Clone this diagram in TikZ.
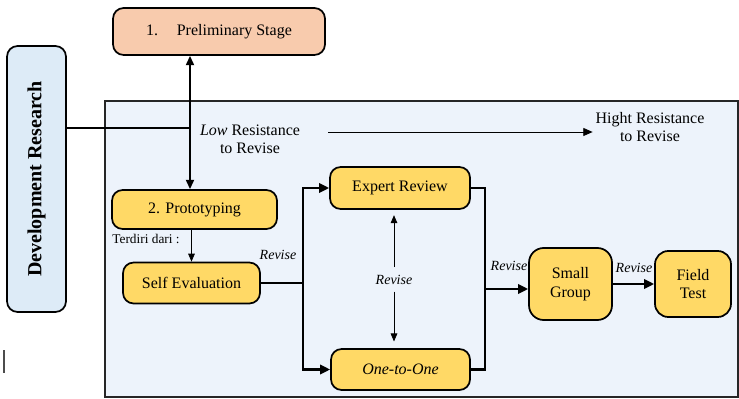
\documentclass[tikz,border=0pt]{standalone}
\usepackage{fontspec}
\setmainfont{Liberation Serif}
\newfontfamily\diagfont{Liberation Serif}
\usepackage{tikz}
\usetikzlibrary{arrows.meta}
\definecolor{peach}{HTML}{F8CBAD}
\definecolor{gold}{HTML}{FFD966}
\definecolor{paleblue}{HTML}{DDEBF7}
\definecolor{bgblue}{HTML}{EDF3FB}

\begin{document}
\begin{tikzpicture}[x=0.75pt,y=-0.75pt,
	stagebox/.style={draw=black,line width=1.3pt,rounded corners=8pt,fill=gold,align=center,inner sep=0pt,font=\diagfont\fontsize{12}{14}\selectfont},
	revtxt/.style={font=\diagfont\fontsize{10.5}{12}\selectfont\itshape,inner sep=1pt},
	bigline/.style={line width=1.7pt},
	bigarrow/.style={line width=1.7pt,-{Triangle[length=7.5pt,width=7pt]}},
	thinarrow/.style={line width=0.6pt,-{Triangle[length=6pt,width=5pt]}}]
	\useasboundingbox (0,0) rectangle (739,399);
	\fill [bgblue,draw=black!85,line width=1.3pt] (105,101) rectangle (738,397);
	\draw [black!70,line width=0.8pt] (4,350) -- (4,373);
	\node [stagebox,fill=peach,minimum width=159pt,minimum height=35.25pt] (prelim) at (219,31.5) {1.\hspace{14pt}Preliminary Stage};
	\node [stagebox,fill=paleblue,rotate=90,minimum width=199.5pt,minimum height=44.25pt,font=\diagfont\fontsize{15}{17}\selectfont\bfseries] (devres) at (36.5,179) {Development Research};
	\node [stagebox,minimum width=123.75pt,minimum height=29.25pt] (proto) at (194.5,209.5) {2. Prototyping};
	\node [stagebox,minimum width=102.75pt,minimum height=30.75pt] (selfev) at (191.5,283) {Self Evaluation};
	\node [stagebox,minimum width=105pt,minimum height=31.5pt] (expert) at (400,188) {Expert Review};
	\node [stagebox,minimum width=104.25pt,minimum height=30.75pt,font=\diagfont\fontsize{12}{14}\selectfont\itshape] (oneone) at (400.5,369.5) {One-to-One};
	\node [stagebox,rounded corners=11pt,minimum width=62.25pt,minimum height=54pt] (small) at (570.5,284) {Small\\Group};
	\node [stagebox,rounded corners=10pt,minimum width=57pt,minimum height=49.5pt] (field) at (693,284) {Field\\Test};
	\node [align=center,font=\diagfont\fontsize{12}{13.5}\selectfont,inner sep=0pt] (lowtxt) at (250,139) {\textit{Low} Resistance\\to Revise};
	\node [align=center,font=\diagfont\fontsize{12}{13.5}\selectfont,inner sep=2pt] (hightxt) at (650,127) {Hight Resistance\\to Revise};
	\node [font=\diagfont\fontsize{10}{12}\selectfont,inner sep=0pt] (terdiri) at (146,239) {Terdiri dari :};
	\node [revtxt] (rev1) at (278,255) {Revise};
	\node [revtxt] (rev2) at (394,280) {Revise};
	\node [revtxt] (rev3) at (509,266) {Revise};
	\node [revtxt] (rev4) at (634,268) {Revise};
	\coordinate (hub) at (190,128);
	\coordinate (trend) at (328,132);
	\coordinate (split) at (303,283);
	\coordinate (merge) at (485,289);
	\draw [bigline] (devres.south |- hub) -- (hub);
	\draw [line width=1.5pt,{Triangle[length=7pt,width=6pt]}-{Triangle[length=7pt,width=6pt]}] (prelim.south -| hub) -- (proto.north -| hub);
	\draw [line width=0.6pt,-{Triangle[length=7pt,width=6pt]}] (trend) -- (hightxt.west |- trend);
	\draw [thinarrow] (proto.south -| selfev.north) -- (selfev.north);
	\draw [bigline] (selfev.east) -- (split);
	\draw [bigarrow] (split) |- (expert.west);
	\draw [bigarrow] (split) |- (oneone.west);
	\draw [bigline] (expert.east) -| (merge) |- (oneone.east);
	\draw [bigarrow] (merge) -- (small.west |- merge);
	\draw [bigarrow] (small.east) -- (field.west);
	\draw [thinarrow,shorten <=5pt,shorten >=4pt] (rev2.north) -- (rev2.north |- expert.south);
	\draw [thinarrow,shorten <=4pt,shorten >=5pt] (rev2.south) -- (rev2.south |- oneone.north);
\end{tikzpicture}
\end{document}
